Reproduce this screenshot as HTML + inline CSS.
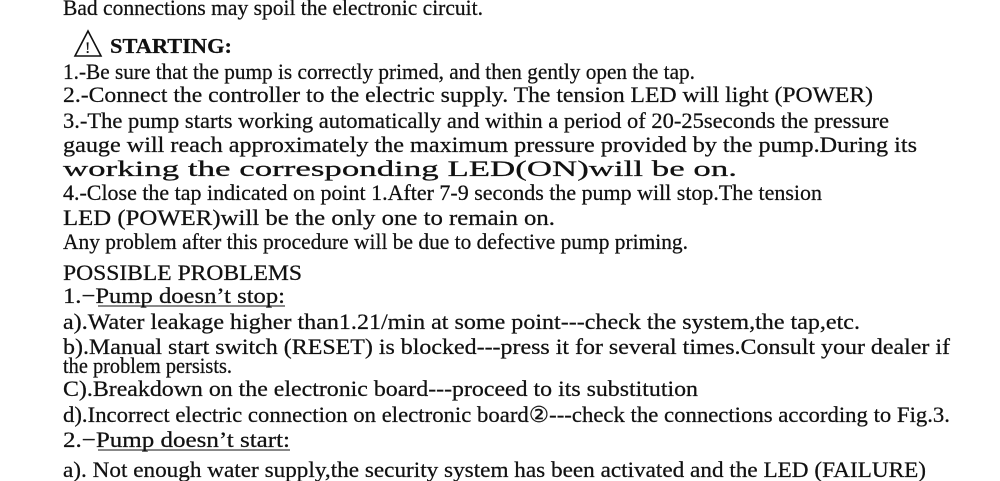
<!DOCTYPE html>
<html><head><meta charset="utf-8"><style>
html,body{margin:0;padding:0;background:#fff;}
svg{display:block}
text{font-family:"Liberation Serif",serif;font-size:22px;fill:#111;stroke:#111;stroke-width:0.25;}
</style></head><body>
<svg width="1000" height="481" viewBox="0 0 1000 481" xmlns="http://www.w3.org/2000/svg">
<text x="63" y="15" textLength="420" lengthAdjust="spacingAndGlyphs">Bad connections may spoil  the electronic circuit.</text>
<polygon points="88,31 75,56 101,56" fill="none" stroke="#111" stroke-width="1.6"/>
<text x="85" y="53" style="font-size:16px">!</text>
<text x="110" y="53" textLength="122" lengthAdjust="spacingAndGlyphs" style="font-weight:bold;font-size:21px">STARTING:</text>
<text x="63" y="79" textLength="632" lengthAdjust="spacingAndGlyphs">1.-Be sure that the pump is correctly primed, and then gently open the tap.</text>
<text x="63" y="102" textLength="810" lengthAdjust="spacingAndGlyphs">2.-Connect the controller to the electric supply. The tension LED will  light (POWER)</text>
<text x="63" y="128" textLength="826" lengthAdjust="spacingAndGlyphs">3.-The pump starts working automatically and within a period of 20-25seconds the pressure</text>
<text x="63" y="152" textLength="854" lengthAdjust="spacingAndGlyphs">gauge will reach approximately the maximum pressure provided by the pump.During its</text>
<text x="63" y="176" textLength="674" lengthAdjust="spacingAndGlyphs">working the corresponding LED(ON)will be on.</text>
<text x="63" y="200" textLength="759" lengthAdjust="spacingAndGlyphs">4.-Close the tap indicated on point 1.After 7-9 seconds the pump will stop.The tension</text>
<text x="63" y="225" textLength="492" lengthAdjust="spacingAndGlyphs">LED (POWER)will be the only one to remain on.</text>
<text x="63" y="249" textLength="625" lengthAdjust="spacingAndGlyphs">Any problem after this procedure will be due to defective pump priming.</text>
<text x="63" y="280" textLength="239" lengthAdjust="spacingAndGlyphs">POSSIBLE PROBLEMS</text>
<text x="63" y="303" textLength="222" lengthAdjust="spacingAndGlyphs">1.−Pump doesn’t stop:</text>
<line x1="98" y1="306" x2="285" y2="306" stroke="#111" stroke-width="1"/>
<text x="63" y="329" textLength="797" lengthAdjust="spacingAndGlyphs">a).Water leakage higher than1.21/min at some point---check the system,the tap,etc.</text>
<text x="63" y="354" textLength="887" lengthAdjust="spacingAndGlyphs">b).Manual start switch (RESET) is blocked---press it for several times.Consult your dealer if</text>
<text x="63" y="373" textLength="169" lengthAdjust="spacingAndGlyphs">the problem persists.</text>
<text x="63" y="396" textLength="635" lengthAdjust="spacingAndGlyphs">C).Breakdown on the electronic board---proceed to its substitution</text>
<text x="63" y="422" textLength="887" lengthAdjust="spacingAndGlyphs">d).Incorrect electric connection on electronic board②---check the connections according to Fig.3.</text>
<text x="63" y="447" textLength="227" lengthAdjust="spacingAndGlyphs">2.−Pump doesn’t  start:</text>
<line x1="98" y1="450" x2="290" y2="450" stroke="#111" stroke-width="1"/>
<text x="63" y="477" textLength="863" lengthAdjust="spacingAndGlyphs">a). Not enough water supply,the security system has been activated and the LED (FAILURE)</text>
</svg>
</body></html>
